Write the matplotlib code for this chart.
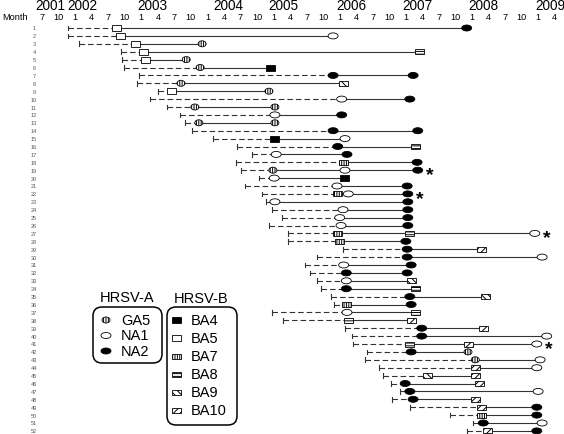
import matplotlib
matplotlib.use('Agg')
import matplotlib.pyplot as plt
from matplotlib.patches import Ellipse, Rectangle, FancyBboxPatch
from matplotlib.transforms import Affine2D

plt.rcParams['font.family'] = ['Liberation Sans', 'DejaVu Sans']
plt.rcParams['hatch.linewidth'] = 0.7

# follow-up start of each patient (decimal years), patients 1..52
start_dates = [
    2001.89, 2001.89, 2002.06, 2002.69, 2002.71, 2002.74, 2002.97, 2002.94,
    2003.25, 2003.13, 2003.39, 2003.59, 2003.66, 2003.77, 2004.08, 2004.45,
    2004.67, 2004.43, 2004.51, 2004.78, 2004.57, 2004.83, 2004.89, 2004.98,
    2005.13, 2004.93, 2005.22, 2005.22, 2006.05, 2005.66, 2005.48, 2005.55,
    2005.66, 2005.72, 2005.87, 2005.91, 2004.98, 2005.14, 2006.08, 2006.19,
    2006.20, 2006.41, 2006.38, 2006.59, 2006.65, 2006.78, 2006.91, 2006.79,
    2007.06, 2007.67, 2008.02, 2007.92,
]

# dates of positive samples (decimal years)
sample_dates = [
    [2002.62, 2007.92], [2002.69, 2005.90], [2002.91, 2003.92],
    [2003.04, 2007.21], [2003.06, 2003.68], [2003.89, 2004.95],
    [2005.90, 2007.11], [2003.60, 2006.05], [2003.46, 2004.93],
    [2006.03, 2007.06], [2003.81, 2005.02], [2005.02, 2006.03],
    [2003.87, 2005.02], [2005.90, 2007.18], [2005.02, 2006.08],
    [2005.97, 2007.14], [2005.04, 2006.11], [2006.05, 2007.17],
    [2004.99, 2006.08, 2007.18], [2005.01, 2006.08], [2005.96, 2007.02],
    [2005.97, 2006.13, 2007.03], [2005.02, 2007.03], [2006.05, 2007.03],
    [2006.00, 2007.03], [2006.02, 2007.03], [2005.97, 2007.05, 2008.95],
    [2006.00, 2007.00], [2007.02, 2008.15], [2007.02, 2009.06],
    [2006.06, 2007.08], [2006.10, 2007.02], [2006.10, 2007.09],
    [2006.10, 2007.15], [2007.06, 2008.20], [2006.11, 2007.08],
    [2006.11, 2007.15], [2006.13, 2007.09], [2007.24, 2008.17],
    [2007.24, 2009.13], [2007.05, 2007.95, 2008.98], [2007.08, 2007.94],
    [2008.05, 2009.03], [2008.05, 2008.98], [2007.32, 2008.05],
    [2006.99, 2008.12], [2007.06, 2009.00], [2007.11, 2008.06],
    [2008.15, 2008.98], [2008.15, 2008.98], [2008.17, 2009.06],
    [2008.24, 2008.98],
]

# genotype of each sample
sample_types = [
    ['BA5', 'NA2'], ['BA5', 'NA1'], ['BA5', 'GA5'], ['BA5', 'BA8'],
    ['BA5', 'GA5'], ['GA5', 'BA4'], ['NA2', 'NA2'], ['GA5', 'BA9'],
    ['BA5', 'GA5'], ['NA1', 'NA2'], ['GA5', 'GA5'], ['NA1', 'NA2'],
    ['GA5', 'GA5'], ['NA2', 'NA2'], ['BA4', 'NA1'], ['NA2', 'BA8'],
    ['NA1', 'NA2'], ['BA7', 'NA2'], ['GA5', 'NA1', 'NA2'], ['NA1', 'BA4'],
    ['NA1', 'NA2'], ['BA7', 'NA1', 'NA2'], ['NA1', 'NA2'], ['NA1', 'NA2'],
    ['NA1', 'NA2'], ['NA1', 'NA2'], ['BA7', 'BA8', 'NA1'], ['BA7', 'NA2'],
    ['NA2', 'BA10'], ['NA2', 'NA1'], ['NA1', 'NA2'], ['NA2', 'NA2'],
    ['NA1', 'BA9'], ['NA2', 'BA8'], ['NA2', 'BA9'], ['BA7', 'NA2'],
    ['NA1', 'BA8'], ['BA8', 'BA10'], ['NA2', 'BA10'], ['NA2', 'NA1'],
    ['BA8', 'BA10', 'NA1'], ['NA2', 'GA5'], ['GA5', 'NA1'], ['BA10', 'NA1'],
    ['BA9', 'BA10'], ['NA2', 'BA10'], ['NA2', 'NA1'], ['NA2', 'BA10'],
    ['BA10', 'NA2'], ['BA7', 'NA2'], ['NA2', 'NA1'], ['BA10', 'NA2'],
]

asterisk_rows = [19, 22, 27, 41]

year_labels = ['2001', '2002', '2003', '2004', '2005', '2006', '2007',
               '2008', '2009']
month_labels = ['7', '10'] + ['1', '4', '7', '10'] * 7 + ['1', '4']
group_a = ['GA5', 'NA1', 'NA2']
group_b = ['BA4', 'BA5', 'BA7', 'BA8', 'BA9', 'BA10']

# marker look: shape, face, hatch, width px, height px
STYLE = {
    'GA5': ('ellipse', 'white', '|' * 7, 8, 6),
    'NA1': ('ellipse', 'white', None, 10, 6),
    'NA2': ('ellipse', 'black', None, 10, 6),
    'BA4': ('rect', 'black', None, 9, 6),
    'BA5': ('rect', 'white', None, 9, 6),
    'BA7': ('rect', 'white', '|' * 7, 9, 5),
    'BA8': ('rect', 'white', '-' * 6, 9, 5),
    'BA9': ('rect', 'white', '\\' * 5, 9, 5),
    'BA10': ('rect', 'white', '/' * 5, 9, 5),
}

W, H = 564, 435
PX_YEAR = 66.14      # pixels per year
X0 = 9               # pixel of Jan 2001
ROW0, ROW_STEP = 29, 7.9
LINE = '#333333'


def to_year(px):
    return 2001 + (px - X0) / PX_YEAR


def draw_marker(ax, x, y, kind, sx, sy, transform):
    shape, face, hatch, w, h = STYLE[kind]
    w, h = w * sx, h * sy
    if shape == 'ellipse':
        p = Ellipse((x, y), w, h)
    else:
        p = Rectangle((x - w / 2, y - h / 2), w, h)
    p.set_facecolor(face)
    p.set_edgecolor('black')
    p.set_linewidth(0.6)
    if hatch:
        p.set_hatch(hatch)
    p.set_transform(transform)
    p.set_clip_on(False)
    p.set_zorder(3)
    ax.add_patch(p)


def main():
    fig = plt.figure(figsize=(W / 100, H / 100), dpi=100)
    ax = fig.add_axes([0, 0, 1, 1])
    ax.set_xlim(to_year(0), to_year(W))
    ax.set_ylim(1 + (H - ROW0) / ROW_STEP, 1 - ROW0 / ROW_STEP)
    ax.axis('off')
    pix = Affine2D().scale(1 / W, -1 / H).translate(0, 1) + fig.transFigure
    sx, sy = 1 / PX_YEAR, 1 / ROW_STEP

    # time axis on top
    ax.text(2, 19.5, 'Month', transform=pix, fontsize=6.6, va='baseline')
    year_px = [50, 82, 152, 228, 283, 351, 417, 483, 550]
    for lab, px in zip(year_labels, year_px):
        ax.text(px, 10.5, lab, transform=pix, fontsize=9.8, ha='center',
                va='baseline')
    k = 0
    for yr in range(2001, 2010):
        for m in (1, 4, 7, 10):
            if (yr == 2001 and m < 7) or (yr == 2009 and m > 4):
                continue
            px = X0 + (yr - 2001 + (m - 1) / 12) * PX_YEAR
            ax.text(px, 19.5, month_labels[k], fontsize=6.6, ha='center',
                    va='baseline', transform=pix)
            k += 1

    for i, (s, dates, kinds) in enumerate(zip(start_dates, sample_dates,
                                              sample_types)):
        y = i + 1
        ax.text(34, ROW0 + i * ROW_STEP, str(y), transform=pix,
                fontsize=4, color='#555555', ha='center', va='center')
        ax.plot([s, s], [y - 0.3, y + 0.3], color=LINE, lw=0.8)
        ax.plot([s, dates[0]], [y, y], color=LINE, lw=0.8,
                ls=(0, (5, 2.7)))
        ax.plot(dates, [y] * len(dates), color=LINE, lw=0.8)
        for d, kd in zip(dates, kinds):
            draw_marker(ax, d, y, kd, sx, sy, ax.transData)
        if y in asterisk_rows:
            ax.text(dates[-1] + 12 * sx, y + 4.5 * sy, '*', fontsize=14,
                    fontweight='bold', ha='center', va='center')

    # legend boxes
    for title, cx, ty, box, items, mx, step in (
            ('HRSV-A', 127, 298, (93, 308, 69, 56), group_a, 106, 15.5),
            ('HRSV-B', 201, 299, (167, 308, 70, 118), group_b, 176, 18)):
        ax.text(cx, ty, title, transform=pix, fontsize=10.5, ha='center',
                va='center')
        bx = FancyBboxPatch((box[0], box[1]), box[2], box[3],
                            boxstyle='round,pad=0,rounding_size=9',
                            transform=pix, fill=False, lw=1.1,
                            edgecolor='black', clip_on=False)
        ax.add_patch(bx)
        for j, kd in enumerate(items):
            yy = box[1] + 13 + j * step
            draw_marker(ax, mx, yy, kd, 1, 1, pix)
            ax.text(mx + 15, yy, kd, transform=pix, fontsize=10.5,
                    va='center')

    fig.savefig('out.png', dpi=100)


if __name__ == '__main__':
    main()
